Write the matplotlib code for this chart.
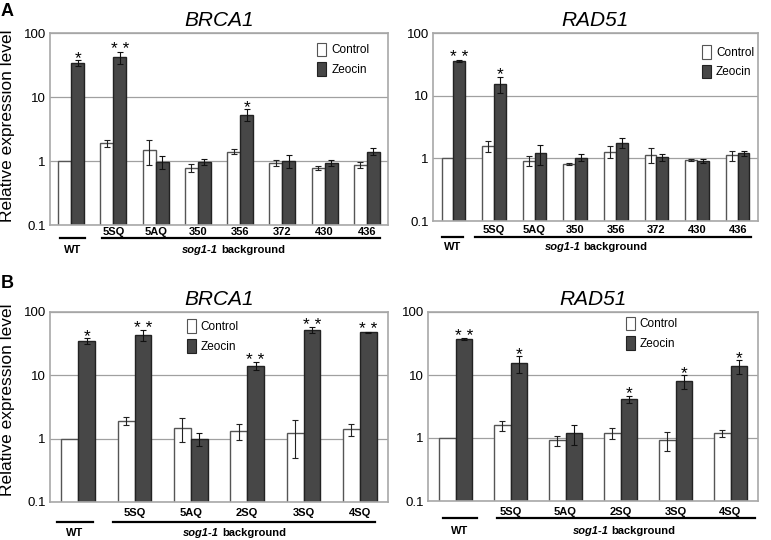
import matplotlib
matplotlib.use("Agg")
import matplotlib.pyplot as plt
import numpy as np
from matplotlib.patches import Patch

plt.rcParams["font.family"] = ["Liberation Sans", "DejaVu Sans"]

# ---- data ----
a_groups = ["WT", "5SQ", "5AQ", "350", "356", "372", "430", "436"]
b_groups = ["WT", "5SQ", "5AQ", "2SQ", "3SQ", "4SQ"]

a_brca1_ctrl = [1.0, 1.9, 1.5, 0.78, 1.4, 0.94, 0.79, 0.88]
a_brca1_ctrl_err = [0, 0.25, 0.62, 0.11, 0.12, 0.1, 0.06, 0.1]
a_brca1_zeo = [34, 42, 0.98, 0.98, 5.3, 1.0, 0.93, 1.4]
a_brca1_zeo_err = [4, 9, 0.22, 0.1, 1.1, 0.22, 0.09, 0.18]
a_brca1_sig = ["*", "**", "", "", "*", "", "", ""]

a_rad51_ctrl = [1.0, 1.58, 0.92, 0.8, 1.28, 1.14, 0.93, 1.12]
a_rad51_ctrl_err = [0, 0.3, 0.16, 0.03, 0.28, 0.3, 0.03, 0.2]
a_rad51_zeo = [36, 15.5, 1.2, 1.03, 1.78, 1.04, 0.9, 1.2]
a_rad51_zeo_err = [1.5, 4.5, 0.42, 0.13, 0.3, 0.12, 0.07, 0.1]
a_rad51_sig = ["**", "*", "", "", "", "", "", ""]

b_brca1_ctrl = [1.0, 1.9, 1.5, 1.32, 1.22, 1.42]
b_brca1_ctrl_err = [0, 0.27, 0.63, 0.37, 0.72, 0.3]
b_brca1_zeo = [35, 43, 0.99, 14.2, 52, 48]
b_brca1_zeo_err = [4, 8.5, 0.22, 2, 6, 1]
b_brca1_sig = ["*", "**", "", "**", "**", "**"]

b_rad51_ctrl = [1.0, 1.58, 0.92, 1.2, 0.93, 1.18]
b_rad51_ctrl_err = [0, 0.3, 0.16, 0.23, 0.3, 0.15]
b_rad51_zeo = [37, 15.3, 1.2, 4.14, 7.9, 13.8]
b_rad51_zeo_err = [1, 4.6, 0.42, 0.55, 2, 3.3]
b_rad51_sig = ["**", "*", "", "*", "*", "*"]

W, H = 771, 540
DARK = "#474747"
GRID = "#a0a0a0"

fig = plt.figure(figsize=(W / 100, H / 100), dpi=100)


def add_axes_px(left, top, right, bottom):
    return fig.add_axes([left / W, 1 - bottom / H, (right - left) / W, (bottom - top) / H])


def draw_panel(ax, groups, ctrl, ctrl_err, zeo, zeo_err, sig, width, title,
               legend_xy, wt_span, sog_span, split_x, pad_px, line_px, text_px):
    x = np.arange(len(groups))
    ctrl, ctrl_err = np.array(ctrl), np.array(ctrl_err)
    zeo, zeo_err = np.array(zeo), np.array(zeo_err)

    ax.set_yscale("log")
    ax.set_ylim(0.1, 100)
    ax.set_xlim(-0.5, len(groups) - 0.5)
    ax.yaxis.grid(True, color=GRID, lw=0.9)
    ax.set_axisbelow(True)
    for s in ax.spines.values():
        s.set_color("#a8a8a8")
        s.set_linewidth(1.2)

    ax.bar(x - width / 2, ctrl, width, color="white", edgecolor="#555555", lw=1)
    ax.bar(x + width / 2, zeo, width, color=DARK, edgecolor="#222222", lw=1)

    m = ctrl_err > 0
    ax.errorbar(x[m] - width / 2, ctrl[m], yerr=ctrl_err[m], fmt="none",
                ecolor="#222222", elinewidth=0.8, capsize=2.5, capthick=0.8)
    m = zeo_err > 0
    ax.errorbar(x[m] + width / 2, zeo[m], yerr=zeo_err[m], fmt="none",
                ecolor="#111111", elinewidth=0.8, capsize=2.5, capthick=0.8)

    for i, s in enumerate(sig):
        if s:
            ax.annotate(" ".join(s), xy=(x[i] + width / 2, zeo[i] + zeo_err[i]),
                        xytext=(0, -2), textcoords="offset points",
                        ha="center", va="baseline", fontsize=12.5)

    ax.set_yticks([0.1, 1, 10, 100])
    ax.set_yticklabels(["0.1", "1", "10", "100"])
    ax.yaxis.set_minor_locator(matplotlib.ticker.NullLocator())
    ax.tick_params(axis="y", length=0, labelsize=9.5, pad=3)
    ax.set_xticks(x)
    ax.set_xticklabels(["" if g == "WT" else g for g in groups],
                       fontweight="bold", fontsize=8)
    ax.tick_params(axis="x", length=0, pad=pad_px * 0.72)

    ax.set_title(title, fontstyle="italic", fontsize=15, pad=5)

    handles = [Patch(facecolor="white", edgecolor="#555555", lw=0.8),
               Patch(facecolor=DARK, edgecolor="#222222", lw=0.8)]
    ax.legend(handles, ["Control", "Zeocin"], loc="upper left",
              bbox_to_anchor=legend_xy, frameon=False, fontsize=8.5,
              handlelength=0.8, handleheight=1.4, handletextpad=0.4,
              labelspacing=0.5, borderpad=0, borderaxespad=0)

    # genotype brackets under the axis
    h_px = ax.get_position().height * H
    tr = ax.get_xaxis_transform()
    ly = -line_px / h_px
    ty = -text_px / h_px
    ax.plot(wt_span, [ly, ly], transform=tr, color="black", lw=1.6, clip_on=False)
    ax.plot(sog_span, [ly, ly], transform=tr, color="black", lw=1.6, clip_on=False)
    ax.text(np.mean(wt_span), ty, "WT", transform=tr, ha="center", va="center",
            fontweight="bold", fontsize=8)
    ax.annotate("sog1-1", xy=(split_x, ty), xycoords=tr, xytext=(-1.2, 0),
                textcoords="offset points", ha="right", va="center",
                fontweight="bold", fontstyle="italic", fontsize=8)
    ax.annotate("background", xy=(split_x, ty), xycoords=tr, xytext=(1.2, 0),
                textcoords="offset points", ha="left", va="center",
                fontweight="bold", fontsize=8)


ax1 = add_axes_px(50, 33, 388, 225)
draw_panel(ax1, a_groups, a_brca1_ctrl, a_brca1_ctrl_err, a_brca1_zeo, a_brca1_zeo_err,
           a_brca1_sig, 0.31, "BRCA1", (0.79, 0.95), (-0.26, 0.33), (0.72, 7.3), 3.51,
           2, 13, 25)
ax2 = add_axes_px(433, 33, 758, 221)
draw_panel(ax2, a_groups, a_rad51_ctrl, a_rad51_ctrl_err, a_rad51_zeo, a_rad51_zeo_err,
           a_rad51_sig, 0.29, "RAD51", (0.827, 0.936), (-0.28, 0.24), (0.53, 7.33), 3.17,
           4, 16, 26)
ax3 = add_axes_px(50, 312, 388, 502)
draw_panel(ax3, b_groups, b_brca1_ctrl, b_brca1_ctrl_err, b_brca1_zeo, b_brca1_zeo_err,
           b_brca1_sig, 0.3, "BRCA1", (0.404, 0.962), (-0.38, 0.26), (0.61, 5.27), 2.53,
           6, 20, 31)
ax4 = add_axes_px(428, 312, 758, 501)
draw_panel(ax4, b_groups, b_rad51_ctrl, b_rad51_ctrl_err, b_rad51_zeo, b_rad51_zeo_err,
           b_rad51_sig, 0.3, "RAD51", (0.599, 0.975), (-0.22, 0.385), (0.75, 5.45), 2.81,
           6, 17, 30)

fig.text(8 / W, 1 - 126 / H, "Relative expression level", rotation=90,
         ha="center", va="center", fontsize=12.5)
fig.text(8 / W, 1 - 400 / H, "Relative expression level", rotation=90,
         ha="center", va="center", fontsize=12.5)
fig.text(1 / W, 1 - 11 / H, "A", ha="left", va="center", fontweight="bold", fontsize=13)
fig.text(1 / W, 1 - 284 / H, "B", ha="left", va="center", fontweight="bold", fontsize=13)

fig.savefig("out.png", dpi=100)
